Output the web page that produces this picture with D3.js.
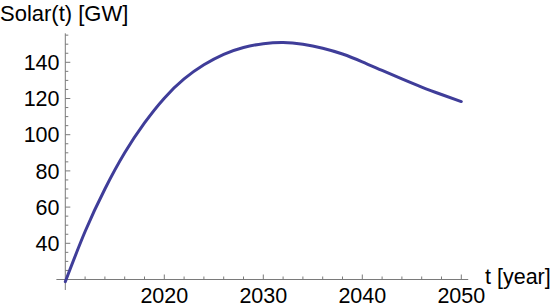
<!DOCTYPE html>
<html>
<head>
<meta charset="utf-8">
<script src="https://cdn.jsdelivr.net/npm/d3@7"></script>
<style>
  body { margin: 0; background: #fff; }
  svg { display: block; font-family: "Liberation Sans", Arial, sans-serif; }
</style>
</head>
<body>
<svg width="554" height="308"></svg>
<script>
// values, every two years
var years  = [2010, 2012, 2014, 2016, 2018, 2020, 2022, 2024, 2026, 2028, 2030,
              2032, 2034, 2036, 2038, 2040, 2042, 2044, 2046, 2048, 2050];
var solar  = [18.8, 46.5, 70, 90, 106.5, 120.2, 130.8, 138.6, 144.4, 148.2, 150.3,
              151, 150, 147.8, 144.6, 140.3, 135.5, 130.8, 126.3, 122.2, 118.3];
var xTicks = [2020, 2030, 2040, 2050];
var yTicks = [40, 60, 80, 100, 120, 140];

var svg = d3.select('svg');

var x = d3.scaleLinear().domain([2010, 2050]).range([65.3, 461.3]);
var y = d3.scaleLinear().domain([20, 140]).range([279.5, 62.3]);

var axisColor = '#7a7a7a';
var fs = '21.5px';

// axis lines (a bit past the plot range, like the original)
svg.append('line')
  .attr('x1', x(2009.1)).attr('x2', x(2050.7))
  .attr('y1', y(20)).attr('y2', y(20))
  .attr('stroke', axisColor).attr('stroke-width', 1);
svg.append('line')
  .attr('x1', x(2010)).attr('x2', x(2010))
  .attr('y1', y(156)).attr('y2', y(14.2))
  .attr('stroke', axisColor).attr('stroke-width', 1);

// x ticks: major every 10, minor every 2
var xAll = d3.range(2012, 2051, 2);
svg.selectAll('.xtick').data(xAll).enter().append('line')
  .attr('class', 'xtick')
  .attr('x1', function(d) { return x(d); })
  .attr('x2', function(d) { return x(d); })
  .attr('y1', y(20))
  .attr('y2', function(d) { return y(20) - (d % 10 === 0 ? 5 : 3); })
  .attr('stroke', axisColor);

// y ticks: major every 20, minor every 5
var yAll = d3.range(25, 156, 5);
svg.selectAll('.ytick').data(yAll).enter().append('line')
  .attr('class', 'ytick')
  .attr('y1', function(d) { return y(d); })
  .attr('y2', function(d) { return y(d); })
  .attr('x1', x(2010))
  .attr('x2', function(d) { return x(2010) + (d % 20 === 0 ? 5 : 3); })
  .attr('stroke', axisColor);

svg.selectAll('.xlab').data(xTicks).enter().append('text')
  .attr('x', function(d) { return x(d); })
  .attr('y', 303)
  .attr('text-anchor', 'middle')
  .style('font-size', fs)
  .text(function(d) { return d; });

svg.selectAll('.ylab').data(yTicks).enter().append('text')
  .attr('x', 59.5)
  .attr('y', function(d) { return y(d); })
  .attr('dy', '0.36em')
  .attr('text-anchor', 'end')
  .style('font-size', fs)
  .text(function(d) { return d; });

// axis labels
svg.append('text').attr('x', 0).attr('y', 20.5)
  .style('font-size', '22px').text('Solar(t) [GW]');
svg.append('text').attr('x', 485).attr('y', 283.5)
  .style('font-size', fs).text('t [year]');

// the curve
var line = d3.line()
  .x(function(d, i) { return x(years[i]); })
  .y(function(d) { return y(d); })
  .curve(d3.curveNatural);

svg.append('path')
  .datum(solar)
  .attr('d', line)
  .attr('fill', 'none')
  .attr('stroke', '#3f3d99')
  .attr('stroke-width', 3)
  .attr('stroke-linecap', 'round');
</script>
</body>
</html>
